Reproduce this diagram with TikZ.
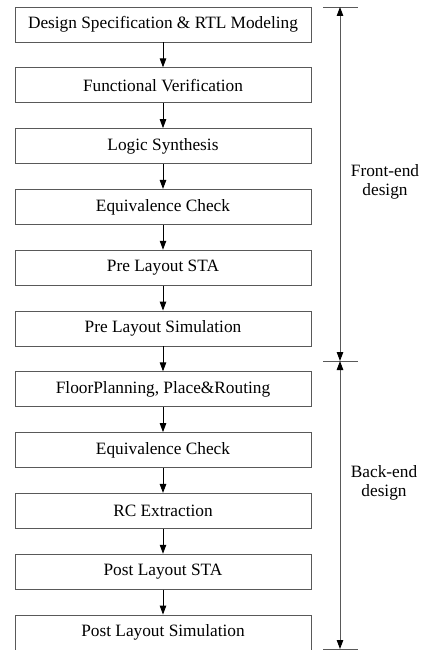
\documentclass[tikz,border=0pt]{standalone}
\usepackage{fontspec}
\setmainfont{Liberation Serif}
\usepackage{tikz}
\usetikzlibrary{arrows.meta}

\begin{document}
\begin{tikzpicture}[>={Triangle[length=9pt,width=6.5pt]},auto, node distance = 60.8pt,
                    stage/.style={rectangle,draw=black!65,line width=0.9pt,minimum width=296pt,minimum height=35pt,inner sep=0pt,font=\fontsize{17.3}{19}\selectfont},
                    tick/.style={draw=black!65,line width=0.9pt},
                    phase/.style={align=center,font=\fontsize{17.3}{18.5}\selectfont}]
  \useasboundingbox (0,0) rectangle (425pt,-650pt);

  \node[stage] (1) at (163pt,-24.5pt) {Design Specification \& RTL Modeling};
  \node[stage] (2) [below of=1] {Functional Verification};
  \node[stage] (3) [below of=2] {Logic Synthesis};
  \node[stage] (4) [below of=3] {Equivalence Check};
  \node[stage] (5) [below of=4] {Pre Layout STA};
  \node[stage] (6) [below of=5] {Pre Layout Simulation};
  \node[stage] (7) [below of=6] {FloorPlanning, Place\&Routing};
  \node[stage] (8) [below of=7] {Equivalence Check};
  \node[stage] (9) [below of=8] {RC Extraction};
  \node[stage] (10) [below of=9] {Post Layout STA};
  \node[stage] (11) [below of=10] {Post Layout Simulation};

  \path[->,line width=0.9pt]
    (1) edge (2)
    (2) edge (3)
    (3) edge (4)
    (4) edge (5)
    (5) edge (6)
    (6) edge (7)
    (7) edge (8)
    (8) edge (9)
    (9) edge (10)
    (10) edge (11);

  % front-end / back-end span
  \coordinate (top) at (340pt,-7pt);
  \coordinate (mid) at (340pt,-361pt);
  \coordinate (bot) at (340pt,-649pt);

  \foreach \c in {top,mid,bot}
    \draw[tick] ([xshift=-17pt]\c) -- ([xshift=18pt]\c);

  \draw[tick,{Triangle[length=9pt,width=6.5pt,black]}-{Triangle[length=9pt,width=6.5pt,black]}] (top) -- (mid);
  \draw[tick,{Triangle[length=9pt,width=6.5pt,black]}-{Triangle[length=9pt,width=6.5pt,black]}] (mid) -- (bot);

  \node[phase] (front) at (385pt,-182pt) {Front-end\\design};
  \node[phase] (back) at (384pt,-483pt) {Back-end\\design};
\end{tikzpicture}
\end{document}
